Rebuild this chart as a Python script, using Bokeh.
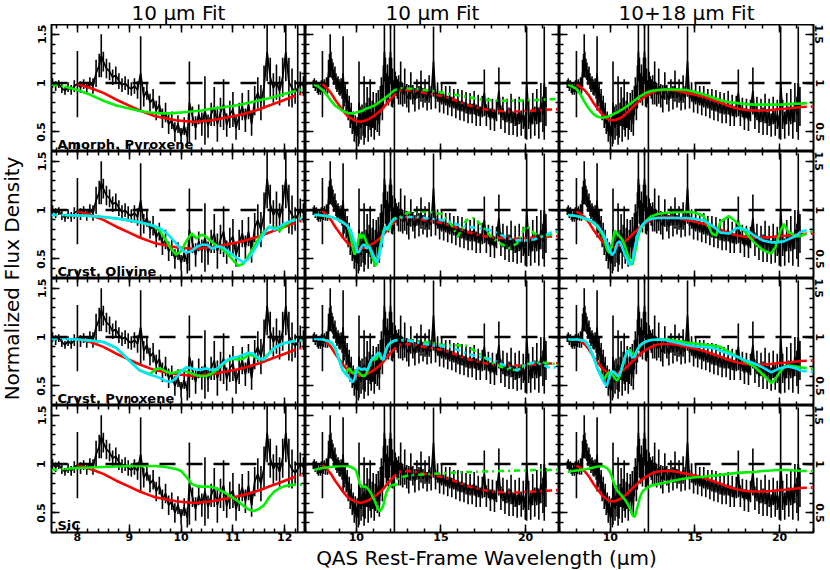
import math
import numpy as np
from bokeh.plotting import figure
from bokeh.models import (Range1d, LinearAxis, SingleIntervalTicker,
                          CustomJSTickFormatter, Span, Label)
from bokeh.layouts import gridplot, column, row
from bokeh.embed import file_html
from bokeh.resources import INLINE

# ---------------- texts ----------------
COL_TITLES = ["10 \u03bcm Fit", "10 \u03bcm Fit", "10+18 \u03bcm Fit"]
ROW_LABELS = ["Amorph. Pyroxene", "Cryst. Olivine", "Cryst. Pyroxene", "SiC"]
X_LABEL = "QAS Rest-Frame Wavelength (\u03bcm)"
Y_LABEL = "Normalized Flux Density"

# ---------------- observed spectrum ----------------
SPEC_WAVE = [
    7.46, 7.52, 7.58, 7.64, 7.70, 7.76, 7.82, 7.88, 7.94, 8.00,
    8.06, 8.12, 8.18, 8.24, 8.30, 8.36, 8.42, 8.46, 8.50, 8.56,
    8.62, 8.68, 8.74, 8.80, 8.86, 8.92, 8.98, 9.04, 9.10, 9.16,
    9.22, 9.28, 9.34, 9.40, 9.46, 9.52, 9.58, 9.64, 9.70, 9.76,
    9.82, 9.88, 9.94, 10.00, 10.06, 10.12, 10.16, 10.22, 10.28, 10.34,
    10.40, 10.46, 10.52, 10.58, 10.64, 10.70, 10.76, 10.82, 10.88, 10.94,
    11.00, 11.06, 11.12, 11.18, 11.24, 11.30, 11.36, 11.42, 11.48, 11.54,
    11.60, 11.66, 11.72, 11.78, 11.84, 11.90, 11.96, 12.02, 12.08, 12.14,
    12.20, 12.25, 12.30, 12.36, 12.42,
    12.50, 12.62, 12.74, 12.86, 12.98, 13.10, 13.22, 13.34, 13.46, 13.58,
    13.70, 13.82, 13.94, 14.06, 14.18, 14.30, 14.42, 14.56, 14.68, 14.80,
    14.92, 15.04, 15.16, 15.28, 15.40, 15.52, 15.64, 15.76, 15.88, 16.00,
    16.12, 16.24, 16.36, 16.48, 16.60, 16.72, 16.84, 16.96, 17.08, 17.20,
    17.32, 17.44, 17.56, 17.68, 17.80, 17.92, 18.04, 18.16, 18.28, 18.42,
    18.54, 18.66, 18.78, 18.90, 19.02, 19.14, 19.26, 19.38, 19.50, 19.62,
    19.74, 19.86, 19.98, 20.06, 20.18, 20.30, 20.42, 20.54, 20.66, 20.78,
    20.90, 21.02, 21.10, 21.20,
]
SPEC_FLUX = [
    0.99, 1.00, 0.97, 0.99, 0.95, 0.92, 0.96, 0.93, 0.97, 0.99,
    0.96, 0.99, 0.95, 1.00, 0.97, 1.10, 1.18, 1.28, 1.22, 1.15,
    1.12, 1.06, 1.08, 1.02, 0.98, 1.00, 0.96, 0.94, 0.97, 0.93,
    1.10, 0.86, 0.92, 0.80, 0.84, 0.72, 0.78, 0.64, 0.70, 0.58,
    0.62, 0.50, 0.58, 0.46, 0.56, 0.45, 0.80, 0.66, 0.54, 0.68,
    0.58, 0.72, 0.56, 0.68, 0.76, 0.58, 0.70, 0.78, 0.57, 0.68,
    0.73, 0.54, 0.66, 0.76, 0.62, 0.78, 0.58, 0.82, 0.90, 0.80,
    0.96, 1.32, 1.06, 0.95, 1.01, 0.92, 1.06, 1.32, 1.01, 0.95,
    0.91, 0.95, 1.00, 0.97, 0.94,
    0.93, 1.00, 0.88, 0.97, 0.87, 0.84, 0.97, 0.88, 0.83, 0.94,
    0.85, 0.97, 0.85, 0.92, 0.82, 0.94, 0.85, 1.22, 0.84, 0.91,
    0.80, 0.89, 0.79, 0.87, 0.77, 0.86, 0.76, 0.84, 0.74, 0.83,
    0.72, 0.82, 0.71, 0.80, 0.69, 0.79, 0.69, 0.80, 0.67, 0.77,
    0.66, 0.76, 0.90, 0.67, 0.75, 0.63, 0.74, 0.62, 0.72, 0.92,
    0.65, 0.74, 0.60, 0.72, 0.61, 0.74, 0.59, 0.70, 0.57, 0.72,
    0.59, 0.68, 0.55, 1.00, 0.68, 0.57, 0.74, 0.61, 0.76, 0.59,
    0.80, 0.68, 1.00, 0.76,
]
SPEC_ERR = [
    0.04, 0.05, 0.05, 0.04, 0.05, 0.04, 0.05, 0.05, 0.06, 0.34,
    0.06, 0.05, 0.06, 0.06, 0.08, 0.14, 0.12, 0.22, 0.10, 0.10,
    0.09, 0.08, 0.09, 0.08, 0.07, 0.07, 0.08, 0.07, 0.08, 0.09,
    0.38, 0.10, 0.09, 0.09, 0.10, 0.10, 0.09, 0.10, 0.10, 0.10,
    0.09, 0.10, 0.09, 0.08, 0.09, 0.10, 0.42, 0.10, 0.12, 0.10,
    0.12, 0.35, 0.12, 0.12, 0.20, 0.18, 0.15, 0.26, 0.12, 0.14,
    0.18, 0.12, 0.14, 0.14, 0.12, 0.15, 0.12, 0.15, 0.16, 0.18,
    0.22, 0.30, 0.20, 0.15, 0.18, 0.15, 0.20, 0.30, 0.25, 0.20,
    0.12, 1.50, 0.12, 0.10, 0.10,
    0.15, 0.22, 0.12, 0.18, 0.12, 0.14, 0.14, 0.10, 0.12, 0.10,
    0.12, 0.16, 0.10, 0.12, 0.10, 0.14, 0.12, 0.36, 0.10, 0.10,
    0.10, 0.11, 0.10, 0.10, 0.10, 0.11, 0.10, 0.10, 0.10, 0.11,
    0.10, 0.11, 0.10, 0.11, 0.10, 0.11, 0.10, 0.12, 0.11, 0.11,
    0.10, 0.11, 0.24, 0.11, 0.10, 0.11, 0.10, 0.11, 0.11, 0.24,
    0.12, 0.12, 0.11, 0.12, 0.14, 0.15, 0.12, 0.14, 0.12, 0.14,
    0.13, 0.15, 0.12, 0.58, 0.15, 0.14, 0.16, 0.15, 0.18, 0.16,
    0.20, 0.18, 0.58, 0.20,
]

# ---------------- model wavelength grids ----------------
SHORT_WL = [7.5, 7.75, 8.0, 8.25, 8.5, 8.75, 9.0, 9.2, 9.4,
            9.5, 9.6, 9.7, 9.8, 9.9, 10.0, 10.1, 10.2, 10.3, 10.4,
            10.5, 10.6, 10.7, 10.8, 10.9, 11.0, 11.1, 11.2, 11.3, 11.4,
            11.5, 11.6, 11.7, 11.8, 11.9, 12.0, 12.1, 12.2, 12.3, 12.4]
EXT_WL = [12.5, 13.0, 13.5, 14.0, 14.5, 15.0, 15.5, 16.0, 16.5, 17.0,
          17.5, 18.0, 18.5, 19.0, 19.5, 20.0, 20.5, 21.0, 21.5, 22.0]
FULL_WL = [7.5, 7.75, 8.0, 8.25, 8.5, 8.75, 9.0, 9.25, 9.5,
           9.65, 9.8, 9.95, 10.1, 10.25, 10.4, 10.55, 10.7, 10.85, 11.0,
           11.15, 11.3, 11.45, 11.6, 11.75, 11.9,
           12.1, 12.4, 12.8, 13.2, 13.6, 14.0, 14.5, 15.0, 15.5, 15.75,
           16.0, 16.25, 16.5, 17.0, 17.5, 18.0, 18.5, 19.0, 19.5, 19.75,
           20.0, 20.25, 20.5, 21.0, 21.25, 22.0]

# ---------------- 10 um fits (short range) ----------------
RED_10 = [None, None, 0.99, 0.95, 0.90, 0.83, 0.77, 0.72, 0.68,
          0.66, 0.65, 0.64, 0.63, 0.62, 0.615, 0.61, 0.605, 0.605, 0.61,
          0.615, 0.62, 0.63, 0.64, 0.65, 0.66, 0.67, 0.685, 0.70, 0.715,
          0.73, 0.75, 0.77, 0.79, 0.81, 0.83, 0.85, 0.87, 0.885, 0.90]
AMPYR_GREEN_10 = [0.985, 0.965, 0.93, 0.88, 0.82, 0.77, 0.74, 0.715, 0.70,
                  0.695, 0.69, 0.69, 0.69, 0.695, 0.70, 0.705, 0.71, 0.715, 0.72,
                  0.73, 0.74, 0.745, 0.75, 0.76, 0.765, 0.775, 0.785, 0.80, 0.81,
                  0.825, 0.835, 0.845, 0.86, 0.875, 0.89, 0.905, 0.92, 0.93, 0.94]
OLIV_GREEN_10 = [0.95, 0.95, 0.945, 0.94, 0.93, 0.915, 0.895, 0.875, 0.85,
                 0.83, 0.78, 0.70, 0.61, 0.545, 0.58, 0.68, 0.76, 0.71, 0.75,
                 0.72, 0.67, 0.635, 0.60, 0.55, 0.49, 0.43, 0.45, 0.53, 0.62,
                 0.71, 0.78, 0.83, 0.82, 0.79, 0.84, 0.88, 0.91, 0.92, 0.92]
OLIV_CYAN_10 = [0.95, 0.95, 0.945, 0.94, 0.93, 0.915, 0.895, 0.875, 0.85,
                0.835, 0.81, 0.775, 0.72, 0.66, 0.60, 0.565, 0.58, 0.625, 0.645,
                0.645, 0.605, 0.63, 0.62, 0.58, 0.54, 0.50, 0.465, 0.50, 0.58,
                0.67, 0.76, 0.83, 0.80, 0.83, 0.865, 0.885, 0.90, 0.91, 0.92]
PYR_GREEN_10 = [None, None, 0.975, 0.965, 0.95, 0.89, 0.76, 0.66, 0.62,
                0.67, 0.68, 0.65, 0.63, 0.64, 0.66, 0.645, 0.63, 0.61, 0.60,
                0.605, 0.63, 0.67, 0.72, 0.76, 0.78, 0.77, 0.78, 0.82, 0.81,
                0.77, 0.78, 0.84, 0.89, 0.92, 0.94, 0.95, 0.96, 0.965, 0.97]
PYR_CYAN_10 = [0.98, 0.98, 0.975, 0.965, 0.95, 0.89, 0.76, 0.66, 0.615,
               0.60, 0.58, 0.55, 0.54, 0.58, 0.65, 0.69, 0.68, 0.665, 0.67,
               0.68, 0.66, 0.68, 0.73, 0.77, 0.79, 0.80, 0.82, 0.84, 0.83,
               0.78, 0.77, 0.83, 0.89, 0.92, 0.94, 0.95, 0.96, 0.965, 0.97]
SIC_GREEN_10 = [0.94, 0.95, 0.96, 0.965, 0.97, 0.975, 0.98, 0.98, 0.98,
                0.98, 0.975, 0.97, 0.96, 0.95, 0.93, 0.87, 0.80, 0.775, 0.77,
                0.77, 0.765, 0.745, 0.72, 0.69, 0.655, 0.62, 0.575, 0.535, 0.52,
                0.54, 0.58, 0.66, 0.72, 0.755, 0.775, 0.785, 0.79, 0.79, 0.79]

# ---------------- 10 um fits extrapolated (long range) ----------------
RED_10_EXT = [0.92, 0.93, 0.92, 0.90, 0.885, 0.87, 0.845, 0.815, 0.78, 0.755,
              0.735, 0.72, 0.715, 0.71, 0.71, 0.715, 0.72, 0.725, 0.73, 0.735]
AMPYR_GREEN_10_EXT = [0.95, 0.945, 0.94, 0.93, 0.92, 0.905, 0.89, 0.875, 0.86, 0.845,
                      0.83, 0.825, 0.82, 0.82, 0.82, 0.825, 0.825, 0.83, 0.835, 0.84]
OLIV_GREEN_10_EXT = [0.92, 0.97, 0.99, 0.985, 0.975, 0.96, 0.88, 0.73, 0.90, 0.92,
                     0.82, 0.72, 0.66, 0.61, 0.66, 0.84, 0.76, 0.73, 0.75, 0.79]
OLIV_CYAN_10_EXT = [0.92, 0.93, 0.93, 0.92, 0.91, 0.90, 0.88, 0.85, 0.83, 0.82,
                    0.81, 0.79, 0.75, 0.71, 0.69, 0.69, 0.70, 0.73, 0.77, 0.80]
PYR_GREEN_10_EXT = [0.97, 0.97, 0.96, 0.95, 0.94, 0.925, 0.92, 0.915, 0.91, 0.86,
                    0.80, 0.74, 0.70, 0.67, 0.66, 0.72, 0.74, 0.74, 0.73, 0.72]
PYR_CYAN_10_EXT = [0.97, 0.965, 0.95, 0.93, 0.915, 0.91, 0.90, 0.87, 0.83, 0.81,
                   0.79, 0.77, 0.73, 0.69, 0.66, 0.72, 0.74, 0.72, 0.68, 0.70]
SIC_GREEN_10_EXT = [0.86, 0.88, 0.89, 0.895, 0.90, 0.905, 0.91, 0.915, 0.92, 0.92,
                    0.925, 0.925, 0.93, 0.93, 0.935, 0.935, 0.94, 0.94, 0.94, 0.94]

# ---------------- 10+18 um fits ----------------
RED_1018 = [None, None, 0.985, 0.96, 0.925, 0.87, 0.80, 0.74, 0.685,
            0.66, 0.64, 0.625, 0.62, 0.62, 0.63, 0.64, 0.655, 0.675, 0.70,
            0.725, 0.75, 0.775, 0.80, 0.825, 0.845,
            0.87, 0.90, 0.925, 0.93, 0.93, 0.92, 0.90, 0.88, 0.86, 0.845,
            0.83, 0.815, 0.80, 0.765, 0.74, 0.725, 0.72, 0.72, 0.725, 0.73,
            0.735, 0.737, 0.74, 0.75, 0.755, 0.76]
AMPYR_GREEN_1018 = [0.985, 0.965, 0.94, 0.88, 0.80, 0.735, 0.685, 0.655, 0.645,
                    0.648, 0.655, 0.665, 0.675, 0.69, 0.70, 0.715, 0.73, 0.75, 0.765,
                    0.785, 0.805, 0.825, 0.845, 0.865, 0.88,
                    0.90, 0.92, 0.93, 0.935, 0.935, 0.935, 0.93, 0.91, 0.885, 0.87,
                    0.855, 0.84, 0.825, 0.805, 0.795, 0.785, 0.78, 0.78, 0.78, 0.78,
                    0.78, 0.782, 0.785, 0.79, 0.79, 0.80]
OLIV_GREEN_1018 = [0.95, 0.945, 0.94, 0.93, 0.91, 0.895, 0.87, 0.83, 0.76,
                   0.70, 0.60, 0.56, 0.64, 0.79, 0.76, 0.73, 0.70, 0.64, 0.56,
                   0.47, 0.44, 0.56, 0.70, 0.79, 0.84,
                   0.89, 0.935, 0.96, 0.97, 0.975, 0.98, 0.98, 0.975, 0.94, 0.86,
                   0.76, 0.74, 0.88, 0.94, 0.87, 0.77, 0.67, 0.59, 0.555, 0.62,
                   0.77, 0.86, 0.78, 0.73, 0.735, 0.79]
OLIV_CYAN_1018 = [0.95, 0.945, 0.94, 0.93, 0.915, 0.90, 0.875, 0.84, 0.78,
                  0.73, 0.66, 0.59, 0.54, 0.57, 0.66, 0.68, 0.62, 0.55, 0.49,
                  0.44, 0.47, 0.62, 0.74, 0.81, 0.85,
                  0.885, 0.91, 0.92, 0.92, 0.92, 0.92, 0.92, 0.91, 0.895, 0.87,
                  0.84, 0.81, 0.77, 0.76, 0.82, 0.80, 0.74, 0.69, 0.67, 0.67,
                  0.675, 0.68, 0.70, 0.74, 0.78, 0.81]
PYR_GREEN_1018 = [0.98, 0.975, 0.975, 0.97, 0.96, 0.90, 0.80, 0.68, 0.60,
                  0.57, 0.62, 0.64, 0.63, 0.58, 0.555, 0.60, 0.70, 0.79, 0.85,
                  0.87, 0.83, 0.82, 0.87, 0.91, 0.935,
                  0.955, 0.97, 0.975, 0.975, 0.97, 0.96, 0.945, 0.935, 0.925, 0.92,
                  0.915, 0.91, 0.90, 0.85, 0.80, 0.75, 0.70, 0.62, 0.53, 0.57,
                  0.64, 0.69, 0.71, 0.70, 0.69, 0.67]
PYR_CYAN_1018 = [0.98, 0.975, 0.975, 0.97, 0.96, 0.90, 0.80, 0.67, 0.58,
                 0.53, 0.50, 0.60, 0.65, 0.64, 0.60, 0.62, 0.69, 0.78, 0.86,
                 0.84, 0.79, 0.80, 0.87, 0.915, 0.935,
                 0.955, 0.97, 0.975, 0.97, 0.955, 0.94, 0.92, 0.905, 0.90, 0.895,
                 0.89, 0.88, 0.86, 0.83, 0.80, 0.76, 0.73, 0.69, 0.64, 0.66,
                 0.68, 0.69, 0.70, 0.68, 0.655, 0.64]
SIC_GREEN_1018 = [0.92, 0.93, 0.935, 0.94, 0.945, 0.955, 0.965, 0.975, 0.98,
                  0.975, 0.96, 0.93, 0.87, 0.79, 0.73, 0.70, 0.67, 0.64, 0.60,
                  0.55, 0.48, 0.46, 0.56, 0.66, 0.72,
                  0.75, 0.78, 0.795, 0.81, 0.825, 0.84, 0.855, 0.865, 0.87, 0.875,
                  0.88, 0.885, 0.89, 0.90, 0.91, 0.915, 0.92, 0.93, 0.935, 0.94,
                  0.94, 0.94, 0.94, 0.935, 0.93, 0.93]

CONTINUUM = 1.0
X_RANGES = [(7.5, 12.4), (7.0, 22.0), (7.0, 22.0)]
Y_RANGE = (0.3, 1.6)
FIT10_RANGE = (7.75, 12.1)
FIT1018_END = 21.25

RED = "#ff0000"
GREEN = "#00f000"
CYAN = "#00e8ff"

ROW_MODELS = [
    [(RED, RED_10, RED_10_EXT, RED_1018),
     (GREEN, AMPYR_GREEN_10, AMPYR_GREEN_10_EXT, AMPYR_GREEN_1018)],
    [(RED, RED_10, RED_10_EXT, RED_1018),
     (GREEN, OLIV_GREEN_10, OLIV_GREEN_10_EXT, OLIV_GREEN_1018),
     (CYAN, OLIV_CYAN_10, OLIV_CYAN_10_EXT, OLIV_CYAN_1018)],
    [(RED, RED_10, RED_10_EXT, RED_1018),
     (GREEN, PYR_GREEN_10, PYR_GREEN_10_EXT, PYR_GREEN_1018),
     (CYAN, PYR_CYAN_10, PYR_CYAN_10_EXT, PYR_CYAN_1018)],
    [(RED, RED_10, RED_10_EXT, RED_1018),
     (GREEN, SIC_GREEN_10, SIC_GREEN_10_EXT, SIC_GREEN_1018)],
]

assert len(SPEC_WAVE) == len(SPEC_FLUX) == len(SPEC_ERR)

# ---------------- layout constants (pixels) ----------------
FONT = "DejaVu Sans"
FRAME_W, FRAME_H = 254, 127
YT_W, BORDER_L, BORDER_R = 24, 27, 16
TT_H, BORDER_B, XT_H = 24, 13, 24
DOT = "6 4 2 4"


def arr(v):
    return np.array([np.nan if a is None else a for a in v], dtype=float)


def style_axis(ax, labeled, standoff=0, vertical=False):
    ax.axis_line_color = None
    ax.major_tick_in = 8
    ax.major_tick_out = 0
    ax.minor_tick_in = 4
    ax.minor_tick_out = 0
    ax.major_tick_line_width = 1.5
    ax.minor_tick_line_width = 1.5
    ax.major_tick_line_color = "black"
    ax.minor_tick_line_color = "black"
    ax.major_label_standoff = standoff
    if labeled:
        ax.formatter = CustomJSTickFormatter(code="return String(tick);")
        ax.major_label_text_font = FONT
        ax.major_label_text_font_size = "11px"
        ax.major_label_text_font_style = "bold"
        ax.major_label_text_color = "black"
        if vertical:
            ax.major_label_orientation = "vertical"
    else:
        ax.formatter = CustomJSTickFormatter(code="return '';")
        ax.major_label_text_font_size = "0px"
        ax.major_label_text_color = None


def x_ticker(c):
    return SingleIntervalTicker(interval=1 if c == 0 else 5, num_minor_ticks=5)


def y_ticker():
    return SingleIntervalTicker(interval=0.5, num_minor_ticks=5)


def draw_split(p, x, y, lo, hi, color):
    x = np.asarray(x, dtype=float)
    y = arr(y)
    solid = (x >= lo) & (x <= hi)
    p.line(x[solid], y[solid], line_color=color, line_width=2.6)
    left = x <= lo
    if left.sum() > 1:
        p.line(x[left], y[left], line_color=color, line_width=2.6, line_dash=DOT)
    right = x >= hi
    if right.sum() > 1:
        p.line(x[right], y[right], line_color=color, line_width=2.6, line_dash=DOT)


wave = np.array(SPEC_WAVE)
flux = np.array(SPEC_FLUX)
err = np.array(SPEC_ERR)

grid_rows = []
for r in range(4):
    row_figs = []
    for c in range(3):
        xs, xe = X_RANGES[c]
        bl = BORDER_L if c == 0 else 0
        br = BORDER_R if c == 2 else 0
        bb = BORDER_B if r == 3 else 0
        p = figure(width=bl + FRAME_W + br, height=FRAME_H + bb,
                   x_range=Range1d(xs, xe), y_range=Range1d(*Y_RANGE),
                   toolbar_location=None, output_backend="svg",
                   x_axis_location=None, y_axis_location=None,
                   min_border_left=bl, min_border_right=br,
                   min_border_top=0, min_border_bottom=bb,
                   outline_line_color="black", outline_line_width=2,
                   background_fill_color="white", border_fill_color="white")
        p.xgrid.visible = False
        p.ygrid.visible = False

        # bottom axis
        if r == 3:
            ax = LinearAxis(ticker=x_ticker(c))
            style_axis(ax, True, standoff=0)
        else:
            ax = LinearAxis(ticker=x_ticker(c), fixed_location=Y_RANGE[0])
            style_axis(ax, False)
        p.add_layout(ax, "below")
        # top axis
        ax = LinearAxis(ticker=x_ticker(c), fixed_location=Y_RANGE[1])
        style_axis(ax, False)
        p.add_layout(ax, "above")
        # left axis
        if c == 0:
            ax = LinearAxis(ticker=y_ticker())
            style_axis(ax, True, standoff=6, vertical=True)
        else:
            ax = LinearAxis(ticker=y_ticker(), fixed_location=xs)
            style_axis(ax, False)
        p.add_layout(ax, "left")
        # right axis
        if c == 2:
            ax = LinearAxis(ticker=y_ticker())
            style_axis(ax, True, standoff=2, vertical=True)
        else:
            ax = LinearAxis(ticker=y_ticker(), fixed_location=xe)
            style_axis(ax, False)
        p.add_layout(ax, "right")

        # spectrum with error bars
        p.segment(x0=wave, y0=flux - err, x1=wave, y1=flux + err,
                  line_color="black", line_width=1.6)
        p.line(wave, flux, line_color="black", line_width=1.7)

        # models
        for color, short, ext, full in ROW_MODELS[r]:
            if c == 0:
                draw_split(p, SHORT_WL, short, FIT10_RANGE[0], FIT10_RANGE[1], color)
            elif c == 1:
                draw_split(p, SHORT_WL + EXT_WL, short + ext,
                           FIT10_RANGE[0], FIT10_RANGE[1], color)
            else:
                draw_split(p, FULL_WL, full, -1e9, FIT1018_END, color)

        p.add_layout(Span(location=CONTINUUM, dimension="width",
                          line_color="black", line_width=2.5, line_dash="16 11"))

        if c == 0:
            px_x = (xe - xs) / FRAME_W
            px_y = (Y_RANGE[1] - Y_RANGE[0]) / FRAME_H
            p.add_layout(Label(x=xs + 6 * px_x, y=Y_RANGE[0] + 7 * px_y,
                               text=ROW_LABELS[r], text_font=FONT,
                               text_font_size="13px", text_font_style="bold",
                               text_color="black", text_align="left",
                               text_baseline="middle"))
        row_figs.append(p)
    grid_rows.append(row_figs)

grid = gridplot(grid_rows, toolbar_location=None)


def blank(w, h):
    f = figure(width=w, height=h, x_range=Range1d(0, w), y_range=Range1d(0, h),
               toolbar_location=None, output_backend="svg",
               x_axis_location=None, y_axis_location=None,
               min_border=0, outline_line_color=None,
               background_fill_color="white", border_fill_color="white")
    f.xgrid.visible = False
    f.ygrid.visible = False
    return f


TOTAL_W = YT_W + BORDER_L + 3 * FRAME_W + BORDER_R
GRID_H = 4 * FRAME_H + BORDER_B

title_fig = blank(TOTAL_W, TT_H)
for c in range(3):
    cx = YT_W + BORDER_L + FRAME_W * c + FRAME_W / 2
    title_fig.add_layout(Label(x=cx, y=TT_H / 2, text=COL_TITLES[c], text_font=FONT,
                               text_font_size="20px", text_color="black",
                               text_align="center", text_baseline="middle"))

ytitle_fig = blank(YT_W, GRID_H)
ytitle_fig.add_layout(Label(x=11.5, y=GRID_H - 2 * FRAME_H, text=Y_LABEL,
                            text_font=FONT, text_font_size="20px",
                            text_color="black", angle=math.pi / 2,
                            text_align="center", text_baseline="middle"))

xtitle_fig = blank(TOTAL_W, XT_H)
xtitle_fig.add_layout(Label(x=486, y=XT_H / 2, text=X_LABEL, text_font=FONT,
                            text_font_size="20px", text_color="black",
                            text_align="center", text_baseline="middle"))

layout = column(title_fig, row(ytitle_fig, grid), xtitle_fig)

open("out.html", "w").write(file_html(layout, INLINE))
